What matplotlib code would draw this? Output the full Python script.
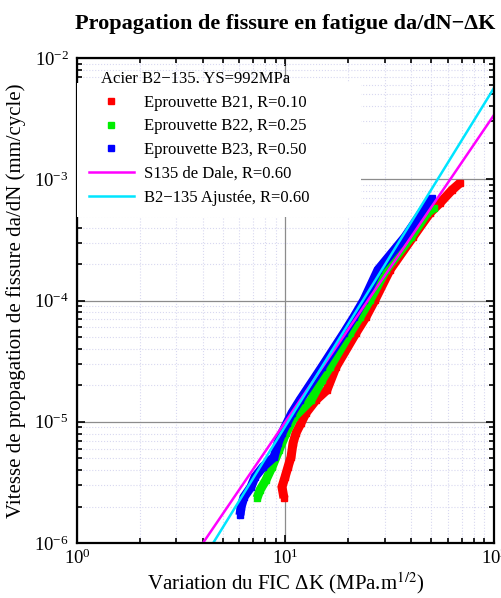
import numpy as np
import matplotlib
matplotlib.use("Agg")
import matplotlib.pyplot as plt
from matplotlib.ticker import LogLocator, LogFormatterMathtext, NullFormatter

plt.rcParams['font.family'] = ['Liberation Serif', 'DejaVu Serif']
plt.rcParams['mathtext.fontset'] = 'stix'

# Eprouvette B21, R=0.10
dk_b21 = [9.83, 9.62, 9.95, 10.28, 10.63, 10.87, 11.23, 11.87, 12.54, 14.0, 15.81,
          17.47, 21.79, 24.32, 26.87, 31.71, 40.88, 49.32, 55.08, 62.90, 68.69]
da_b21 = [2.35e-6, 2.90e-6, 3.50e-6, 4.24e-6, 5.12e-6, 6.68e-6, 8.07e-6, 9.77e-6, 1.18e-5,
          1.51e-5, 1.83e-5, 2.83e-5, 5.40e-5, 7.31e-5, 1.01e-4, 1.79e-4, 3.34e-4,
          5.27e-4, 6.37e-4, 8.15e-4, 9.31e-4]

# Eprouvette B22, R=0.25
dk_b22 = [7.30, 7.55, 8.06, 8.62, 9.31, 10.06, 10.98, 13.26, 14.96, 16.34, 20.39,
          22.77, 25.42, 30.34, 39.99, 47.72, 51.53]
da_b22 = [2.35e-6, 2.74e-6, 3.31e-6, 4.24e-6, 5.85e-6, 8.07e-6, 1.09e-5, 1.51e-5,
          2.21e-5, 2.83e-5, 5.40e-5, 7.31e-5, 1.01e-4, 1.79e-4, 3.34e-4, 5.27e-4, 5.79e-4]

# Eprouvette B23, R=0.50
dk_b23 = [6.05, 6.12, 6.32, 6.83, 7.14, 7.80, 8.81, 9.20, 9.62, 10.17, 10.74, 11.74,
          14.96, 19.08, 21.31, 23.79, 27.77, 37.42, 48.25, 50.42]
da_b23 = [1.70e-6, 1.98e-6, 2.39e-6, 2.90e-6, 3.50e-6, 4.24e-6, 5.12e-6, 6.68e-6,
          8.07e-6, 9.77e-6, 1.18e-5, 1.51e-5, 2.83e-5, 5.40e-5, 7.31e-5, 1.01e-4,
          1.79e-4, 3.34e-4, 6.37e-4, 7.00e-4]

# droites de Paris (extremites)
dk_dale = [4.02, 100.0]
da_dale = [1.0e-6, 3.39e-3]
dk_fit = [4.50, 100.0]
da_fit = [1.0e-6, 5.66e-3]

series = [
    (dk_b21, da_b21, '#ff0000', 'Eprouvette B21, R=0.10'),
    (dk_b22, da_b22, '#00ee00', 'Eprouvette B22, R=0.25'),
    (dk_b23, da_b23, '#0000ff', 'Eprouvette B23, R=0.50'),
]

fig = plt.figure(figsize=(5.02, 5.98), dpi=100)
ax = fig.add_axes([77/502, 1-543/598, 417/502, 485/598])

handles = []
for dk, da, c, lab in series:
    ax.plot(dk, da, '-', color=c, lw=6.5, solid_capstyle='butt', solid_joinstyle='miter')
    h, = ax.plot(dk, da, 's', color=c, ms=5, mec=c, label=lab)
    handles.append(h)

h, = ax.plot(dk_dale, da_dale, color='#ff00ff', lw=1.8, label='S135 de Dale, R=0.60')
handles.append(h)
h, = ax.plot(dk_fit, da_fit, color='#00e5ff', lw=1.8, label='B2\u2212135 Ajust\u00e9e, R=0.60')
handles.append(h)

ax.set_xscale('log')
ax.set_yscale('log')
ax.set_xlim(1, 100)
ax.set_ylim(1e-6, 1e-2)

ax.xaxis.set_major_locator(LogLocator(base=10))
ax.yaxis.set_major_locator(LogLocator(base=10))
ax.xaxis.set_minor_locator(LogLocator(base=10, subs=np.arange(2, 10)))
ax.yaxis.set_minor_locator(LogLocator(base=10, subs=np.arange(2, 10)))
ax.xaxis.set_major_formatter(LogFormatterMathtext())
ax.yaxis.set_major_formatter(LogFormatterMathtext())
ax.xaxis.set_minor_formatter(NullFormatter())
ax.yaxis.set_minor_formatter(NullFormatter())

ax.grid(which='minor', color='#d8d8f0', linestyle=':', lw=0.8)
ax.grid(which='major', color='#8c8c8c', linestyle='-', lw=0.9)
ax.set_axisbelow(True)

ax.tick_params(which='both', direction='in', top=True, right=True, labelsize=13.5, width=1.2)
ax.tick_params(which='major', length=6)
ax.tick_params(which='minor', length=3.5)
ax.tick_params(axis='x', which='major', pad=4)
ax.tick_params(axis='y', which='major', pad=6)
for s in ax.spines.values():
    s.set_linewidth(1.6)

ax.set_title('Propagation de fissure en fatigue da/dN\u2212\u0394K', fontsize=16,
             fontweight='bold', pad=21)
ax.set_xlabel('Variation du FIC \u0394K (MPa.m$^{1/2}$)', fontsize=15, labelpad=2)
ax.set_ylabel('Vitesse de propagation de fissure da/dN (mm/cycle)', fontsize=15, labelpad=6)

ax.text(0.057, 0.957, 'Acier B2\u2212135, YS=992MPa', transform=ax.transAxes,
        fontsize=12, va='center', ha='left')
leg = ax.legend(handles=handles, loc='upper left', bbox_to_anchor=(0, 0.9485, 0.681, 0.0),
                mode='expand', fontsize=12, numpoints=1, frameon=True, fancybox=False,
                borderaxespad=0, borderpad=0.7, handlelength=2.7, handletextpad=0.6,
                labelspacing=0.465)
leg.get_frame().set_facecolor('white')
leg.get_frame().set_edgecolor('none')
leg.get_frame().set_alpha(1)

fig.savefig('out.png', dpi=100)
